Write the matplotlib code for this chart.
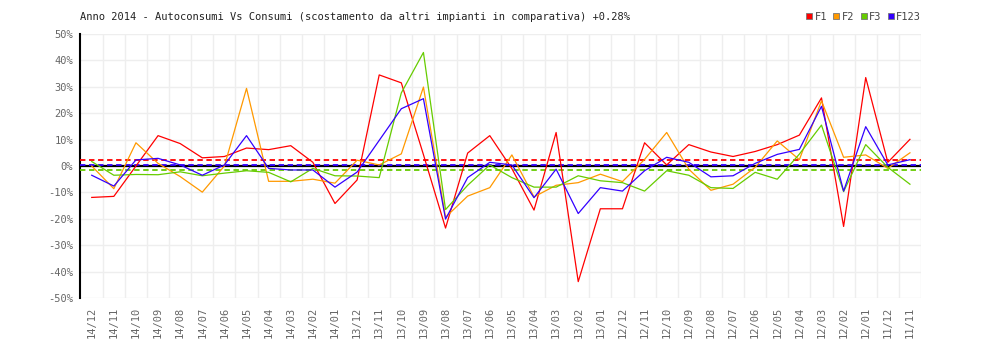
import numpy as np
import matplotlib.pyplot as plt
from matplotlib.lines import Line2D

mesi = ['14/12', '14/11', '14/10', '14/09', '14/08', '14/07', '14/06', '14/05',
        '14/04', '14/03', '14/02', '14/01', '13/12', '13/11', '13/10', '13/09',
        '13/08', '13/07', '13/06', '13/05', '13/04', '13/03', '13/02', '13/01',
        '12/12', '12/11', '12/10', '12/09', '12/08', '12/07', '12/06', '12/05',
        '12/04', '12/03', '12/02', '12/01', '11/12', '11/11']

# scostamenti percentuali per fascia
f1 = [-11.9, -11.5, 0.0, 11.5, 8.5, 3.1, 3.6, 6.8, 6.2, 7.7, 1.4, -14.2,
      -5.3, 34.5, 31.5, 4.3, -23.5, 4.9, 11.5, -1.0, -16.7, 12.7, -43.8, -16.2,
      -16.2, 8.8, 0.4, 8.1, 5.3, 3.6, 5.5, 8.1, 11.7, 25.8, -22.9, 33.5, 1.4, 10.1]
f2 = [0.0, -8.6, 8.8, 1.0, -4.0, -9.9, 0.0, 29.4, -5.8, -5.8, -5.0, -6.5,
      2.2, 0.4, 4.6, 29.9, -19.4, -11.4, -8.2, 4.2, -11.7, -7.3, -6.3, -3.1,
      -5.9, 2.5, 12.7, -1.2, -9.2, -6.9, -0.5, 9.5, 2.4, 24.7, 3.3, 4.2, -0.9, 5.0]
f3 = [1.7, -3.5, -3.2, -3.3, -2.2, -3.7, -2.7, -1.8, -2.4, -6.0, -0.9, -3.7,
      -3.8, -4.4, 27.7, 43.0, -16.5, -7.3, 0.4, -4.4, -8.0, -8.0, -3.7, -5.6,
      -6.3, -9.5, -1.8, -3.5, -8.2, -8.5, -2.4, -5.0, 4.5, 15.5, -9.7, 8.1, -0.5, -6.9]
f123 = [-3.5, -7.6, 2.3, 2.9, 0.4, -3.5, 0.4, 11.5, -0.9, -1.5, -1.5, -8.0,
        -2.3, 9.7, 21.7, 25.5, -20.1, -4.4, 1.4, 0.4, -12.0, -1.2, -18.0, -8.2,
        -9.5, -1.8, 3.3, 1.4, -4.1, -3.7, 1.0, 4.4, 6.3, 22.6, -9.5, 14.9, 0.4, 2.4]

# medie (linee tratteggiate)
medie = {'F1': 2.3, 'F3': -1.5, 'F123': 0.28}

nomi = ['F1', 'F2', 'F3', 'F123']
colori = ['#ff0000', '#ff9900', '#66cc00', '#3300ff']
serie = [f1, f2, f3, f123]

plt.rcParams['font.family'] = 'DejaVu Sans Mono'

fig = plt.figure(figsize=(10, 3.4), dpi=100)
ax = fig.add_axes([0.08, 0.1235, 0.841, 0.7765])

x = np.arange(len(mesi))

ax.axhline(0, color='black', lw=1.6, zorder=2)
for nome, col in zip(nomi, colori):
    if nome in medie:
        ax.axhline(medie[nome], color=col, lw=1.3, ls=(0, (3, 2)), zorder=3)

for nome, col, s in zip(nomi, colori, serie):
    ax.plot(x, s, color=col, lw=0.9, zorder=4)

ax.set_xlim(-0.53, 37.4)
ax.set_ylim(-50, 50)
ax.set_yticks(range(-50, 51, 10))
ax.set_yticklabels([f'{v}%' for v in range(-50, 51, 10)])
ax.set_xticks(x)
ax.set_xticklabels(mesi, rotation=90)
ax.set_xticks(x + 0.5, minor=True)

ax.grid(True, which='minor', axis='x', color='#eeeeee', lw=1)
ax.grid(True, which='major', axis='y', color='#eeeeee', lw=1)
ax.set_axisbelow(True)

for s in ['top', 'right', 'bottom']:
    ax.spines[s].set_visible(False)
ax.spines['left'].set_color('black')
ax.spines['left'].set_linewidth(1.5)
ax.tick_params(which='both', length=0, labelsize=7.5, colors='#666666')
ax.tick_params(axis='y', pad=5)
ax.tick_params(axis='x', pad=6)

fig.text(0.08, 0.95, 'Anno 2014 - Autoconsumi Vs Consumi (scostamento da altri impianti in comparativa) +0.28%',
         fontsize=7.5, color='#222222', va='center', ha='left')

handles = [Line2D([], [], ls='', marker='s', markersize=5, markerfacecolor=c,
                  markeredgecolor='#777777', markeredgewidth=0.6) for c in colori]
fig.legend(handles, nomi, loc='center right', bbox_to_anchor=(0.925, 0.95), ncol=4,
           frameon=False, fontsize=7.5, handlelength=0.6, handletextpad=0.2,
           columnspacing=0.6, labelcolor='#444444', borderaxespad=0)

fig.savefig('out.png', dpi=100)
